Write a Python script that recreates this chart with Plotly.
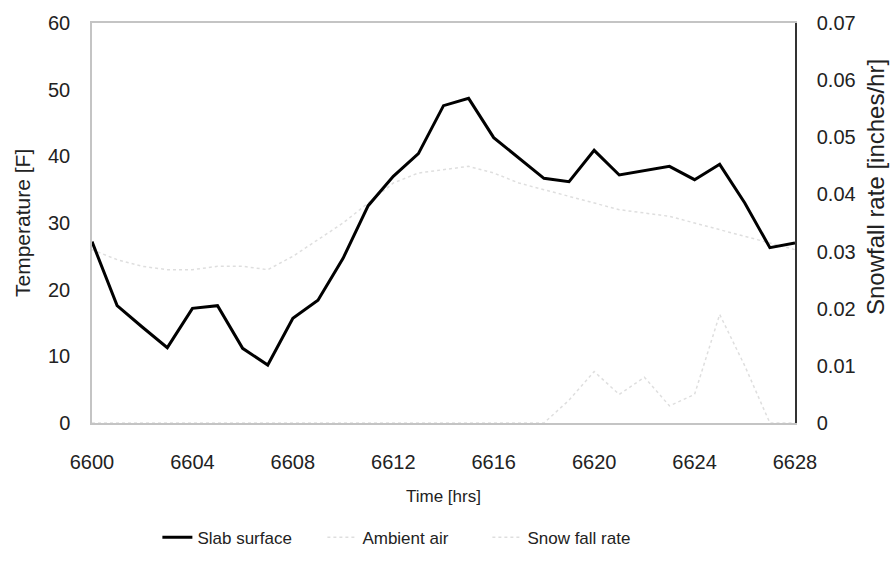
import plotly.graph_objects as go

hours = list(range(6600, 6629))

slab_surface = [27.2, 17.6, 14.4, 11.3, 17.2, 17.6, 11.2, 8.7, 15.7, 18.4,
                24.7, 32.6, 37.0, 40.4, 47.6, 48.7, 42.8, 39.8, 36.7, 36.2,
                40.9, 37.2, 37.9, 38.5, 36.5, 38.8, 33.0, 26.3, 27.0]

ambient_air = [26.0, 24.5, 23.5, 23.0, 23.0, 23.5, 23.5, 23.0, 25.0, 27.5,
               30.0, 33.0, 36.0, 37.5, 38.0, 38.5, 37.5, 36.0, 35.0, 34.0,
               33.0, 32.0, 31.5, 31.0, 30.0, 29.0, 28.0, 27.0, 26.0]

snowfall_rate = [0, 0, 0, 0, 0, 0, 0, 0, 0, 0,
                 0, 0, 0, 0, 0, 0, 0, 0, 0, 0.004,
                 0.009, 0.005, 0.008, 0.003, 0.005, 0.019, 0.010, 0, 0]

x_ticks = list(range(6600, 6629, 4))

FONT = "Liberation Sans, Arial, sans-serif"
FAINT = "rgba(0,0,0,0.13)"

fig = go.Figure()
fig.add_trace(go.Scatter(x=hours, y=slab_surface, name="Slab surface", mode="lines",
                         line=dict(color="black", width=3)))
fig.add_trace(go.Scatter(x=hours, y=ambient_air, name="Ambient air", mode="lines",
                         line=dict(color=FAINT, width=1.5, dash="dot")))
fig.add_trace(go.Scatter(x=hours, y=snowfall_rate, name="Snow fall rate", mode="lines",
                         yaxis="y2", line=dict(color=FAINT, width=1.5, dash="dot")))

fig.update_layout(
    width=893, height=568,
    margin=dict(l=92, r=98, t=20, b=140),
    paper_bgcolor="white", plot_bgcolor="white",
    font=dict(family=FONT, size=20, color="#222"),
    showlegend=True,
    legend=dict(orientation="h", x=0.093, xanchor="left", y=-0.287, yanchor="middle",
                entrywidth=120, entrywidthmode="pixels", itemwidth=30,
                font=dict(family=FONT, size=17, color="#222")),
    xaxis=dict(range=[6600, 6628], tickvals=x_ticks, ticks="", showgrid=False,
               zeroline=False, showline=True, linecolor="#c4c4c4", linewidth=1.5,
               mirror=True, ticklabelstandoff=20, tickfont=dict(size=20)),
    yaxis=dict(range=[0, 60], dtick=10, ticks="", showgrid=False, zeroline=False,
               showline=True, linecolor="#c4c4c4", linewidth=1.5, ticklabelstandoff=16,
               tickfont=dict(size=20)),
    yaxis2=dict(range=[0, 0.07], dtick=0.01, overlaying="y", side="right", ticks="",
                showgrid=False, zeroline=False, showline=True, linecolor="#333",
                linewidth=1.5, ticklabelstandoff=16, tickfont=dict(size=20)),
    annotations=[
        dict(text="Time [hrs]", xref="paper", yref="paper", x=0.5, y=-0.184,
             xanchor="center", yanchor="middle", showarrow=False,
             font=dict(family=FONT, size=17, color="#222")),
        dict(text="Temperature [F]", xref="paper", yref="paper", x=-0.0996, y=0.5,
             xanchor="center", yanchor="middle", textangle=-90, showarrow=False,
             font=dict(family=FONT, size=21, color="#222")),
        dict(text="Snowfall rate [inches/hr]", xref="paper", yref="paper", x=1.1138, y=0.59,
             xanchor="center", yanchor="middle", textangle=-90, showarrow=False,
             font=dict(family=FONT, size=24, color="#222")),
    ],
)

fig.write_html("out.html")
